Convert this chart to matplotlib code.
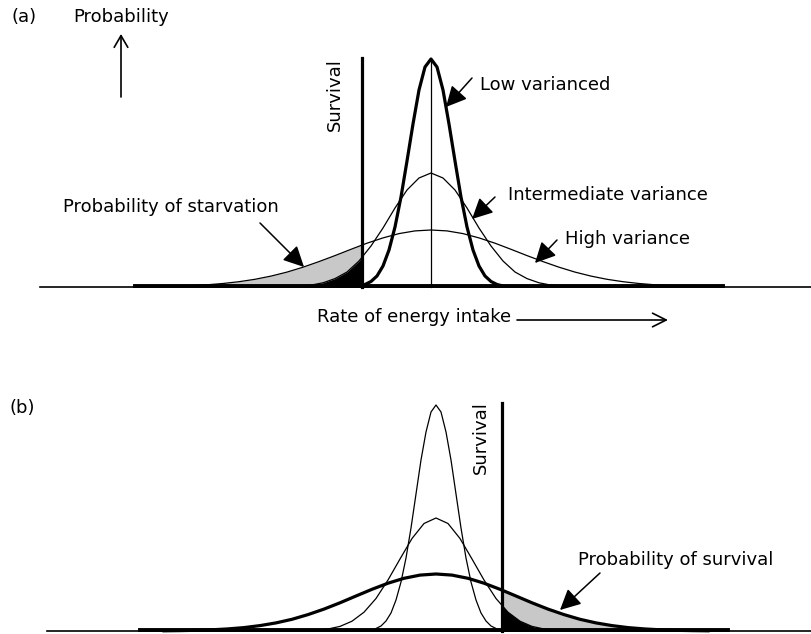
import matplotlib
matplotlib.use("Agg")
import matplotlib.pyplot as plt
from matplotlib.patches import Rectangle

################# DATA (pixel units, heights above baseline) ####################

# panel (a)
a_base, a_center, a_survival = 287, 431, 362
a_low_dx = [-72, -66, -60, -54, -48, -42, -36, -30, -24, -18, -12, -6, 0,
            6, 12, 18, 24, 30, 36, 42, 48, 54, 60, 66, 72]
a_low_h = [1, 2.5, 5.5, 11, 21, 37, 60, 90, 126, 163, 197, 220, 228,
           220, 197, 163, 126, 90, 60, 37, 21, 11, 5.5, 2.5, 1]
a_mid_dx = [-132, -120, -108, -96, -84, -72, -60, -48, -36, -24, -12, 0,
            12, 24, 36, 48, 60, 72, 84, 96, 108, 120, 132]
a_mid_h = [1, 1.9, 4.2, 8.4, 15, 26, 41, 59, 79, 97, 109, 114,
           109, 97, 79, 59, 41, 26, 15, 8.4, 4.2, 1.9, 1]
a_high_dx = [-288, -272, -256, -240, -224, -208, -192, -176, -160, -144, -128, -112,
             -96, -80, -64, -48, -32, -16, 0, 16, 32, 48, 64, 80, 96, 112, 128,
             144, 160, 176, 192, 208, 224, 240, 256, 272, 288]
a_high_h = [0.3, 0.5, 0.8, 1.4, 2.2, 3.5, 5.3, 7.7, 10.9, 14.9, 19.8, 25.4,
            31.4, 37.7, 43.8, 49.1, 53.4, 56.1, 57, 56.1, 53.4, 49.1, 43.8, 37.7, 31.4, 25.4, 19.8,
            14.9, 10.9, 7.7, 5.3, 3.5, 2.2, 1.4, 0.8, 0.5, 0.3]
a_band = (135, 723)

# panel (b)
b_base, b_center, b_survival = 631, 436, 502
b_low_dx = [-60, -55, -50, -45, -40, -35, -30, -25, -20, -15, -10, -5, 0,
            5, 10, 15, 20, 25, 30, 35, 40, 45, 50, 55, 60]
b_low_h = [2.5, 5, 10, 18, 31, 49, 73, 103, 137, 171, 199, 219, 226,
           219, 199, 171, 137, 103, 73, 49, 31, 18, 10, 5, 2.5]
b_mid_dx = [-120, -108, -96, -84, -72, -60, -48, -36, -24, -12, 0,
            12, 24, 36, 48, 60, 72, 84, 96, 108, 120]
b_mid_h = [0.8, 2, 4.6, 9.8, 18.8, 32.5, 51, 72, 92.5, 107.5, 113,
           107.5, 92.5, 72, 51, 32.5, 18.8, 9.8, 4.6, 2, 0.8]
b_high_dx = [-272, -256, -240, -224, -208, -192, -176, -160, -144, -128, -112, -96,
             -80, -64, -48, -32, -16, 0, 16, 32, 48, 64, 80, 96, 112, 128, 144,
             160, 176, 192, 208, 224, 240, 256, 272]
b_high_h = [0.2, 0.4, 0.7, 1.2, 2.1, 3.4, 5.4, 8.1, 11.7, 16.4, 21.9, 28.2,
            35, 41.7, 47.8, 52.7, 55.9, 57, 55.9, 52.7, 47.8, 41.7, 35, 28.2, 21.9, 16.4, 11.7,
            8.1, 5.4, 3.4, 2.1, 1.2, 0.7, 0.4, 0.2]
b_band = (140, 728)

#################################################################################

plt.rcParams['font.family'] = ['DejaVu Sans']
FS = 13

fig = plt.figure(figsize=(8.12, 6.34), dpi=100)
ax = fig.add_axes([0, 0, 1, 1])
ax.set_xlim(0, 812)
ax.set_ylim(634, 0)
ax.axis('off')


def curve(center, base, dx, h):
    return [center + d for d in dx], [base - v for v in h]


def shade(xs, ys, base, clip_x0, clip_x1, color, z):
    f = ax.fill_between(xs, ys, base, color=color, lw=0, zorder=z)
    f.set_clip_path(Rectangle((clip_x0, base - 300), clip_x1 - clip_x0, 300,
                              transform=ax.transData))


def pointer(text_xy, tip_xy):
    ax.annotate('', xy=tip_xy, xytext=text_xy,
                arrowprops=dict(arrowstyle='-|>,head_length=0.9,head_width=0.45',
                                color='black', lw=1.1, mutation_scale=14,
                                shrinkA=0, shrinkB=0), zorder=6)


# ---------------- panel (a) ----------------
lx, ly = curve(a_center, a_base, a_low_dx, a_low_h)
mx, my = curve(a_center, a_base, a_mid_dx, a_mid_h)
hx, hy = curve(a_center, a_base, a_high_dx, a_high_h)

shade(hx, hy, a_base, 0, a_survival, '#c8c8c8', 1)
shade(mx, my, a_base, 0, a_survival, 'black', 2)

ax.plot([40, 812], [a_base, a_base], color='black', lw=1.2, zorder=3)
ax.plot(a_band, [a_base - 1.5, a_base - 1.5], color='black', lw=2.8, zorder=3)
ax.plot(hx, hy, color='black', lw=0.9, zorder=4)
ax.plot(mx, my, color='black', lw=0.9, zorder=4)
ax.plot(lx, ly, color='black', lw=2.3, zorder=5)
ax.plot([a_center, a_center], [a_base, a_base - a_low_h[12]], color='black', lw=0.9, zorder=4)
ax.plot([a_survival, a_survival], [a_base, 58], color='black', lw=2.3, zorder=5)

ax.text(12, 17, '(a)', fontsize=FS, va='center', ha='left')
ax.text(73, 17, 'Probability', fontsize=FS, va='center', ha='left')
ax.annotate('', xy=(121, 34), xytext=(121, 97),
            arrowprops=dict(arrowstyle='->,head_length=0.6,head_width=0.35',
                            color='black', lw=1.2, mutation_scale=14,
                            shrinkA=0, shrinkB=0))
ax.text(335, 95, 'Survival', fontsize=FS, rotation=90, va='center', ha='center')
ax.text(480, 85, 'Low varianced', fontsize=FS, va='center', ha='left')
ax.text(508, 195, 'Intermediate variance', fontsize=FS, va='center', ha='left')
ax.text(565, 239, 'High variance', fontsize=FS, va='center', ha='left')
ax.text(63, 207, 'Probability of starvation', fontsize=FS, va='center', ha='left')
ax.text(317, 317, 'Rate of energy intake', fontsize=FS, va='center', ha='left')
ax.annotate('', xy=(668, 320), xytext=(517, 320),
            arrowprops=dict(arrowstyle='->,head_length=0.7,head_width=0.35',
                            color='black', lw=1.2, mutation_scale=14,
                            shrinkA=0, shrinkB=0))

pointer((472, 78), (446, 107))
pointer((495, 197), (472, 219))
pointer((557, 240), (535, 263))
pointer((260, 223), (304, 267))

# ---------------- panel (b) ----------------
lx, ly = curve(b_center, b_base, b_low_dx, b_low_h)
mx, my = curve(b_center, b_base, b_mid_dx, b_mid_h)
hx, hy = curve(b_center, b_base, b_high_dx, b_high_h)

shade(hx, hy, b_base, b_survival, 812, '#c8c8c8', 1)
shade(mx, my, b_base, b_survival, 812, 'black', 2)

ax.plot([47, 812], [b_base, b_base], color='black', lw=1.2, zorder=3)
ax.plot(b_band, [b_base - 1.5, b_base - 1.5], color='black', lw=2.8, zorder=3)
ax.plot(lx, ly, color='black', lw=0.9, zorder=4)
ax.plot(mx, my, color='black', lw=0.9, zorder=4)
ax.plot(hx, hy, color='black', lw=2.3, zorder=5)
ax.plot([b_survival, b_survival], [b_base, 403], color='black', lw=2.3, zorder=5)

ax.text(10, 408, '(b)', fontsize=FS, va='center', ha='left')
ax.text(481, 438, 'Survival', fontsize=FS, rotation=90, va='center', ha='center')
ax.text(578, 560, 'Probability of survival', fontsize=FS, va='center', ha='left')
pointer((600, 573), (560, 610))

fig.savefig('out.png', dpi=100)
